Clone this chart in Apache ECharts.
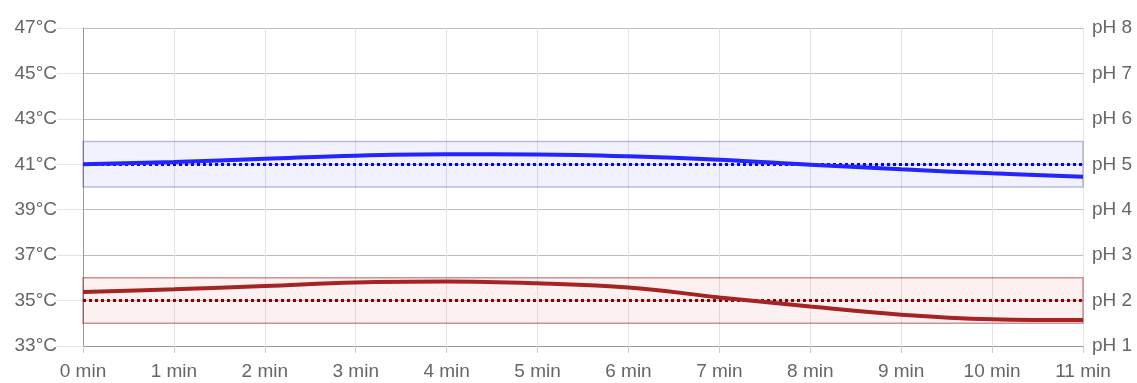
<!DOCTYPE html>
<html>
<head>
<meta charset="utf-8">
<script src="https://cdn.jsdelivr.net/npm/echarts@6/dist/echarts.min.js"></script>
<style>
html, body { margin: 0; padding: 0; background: #fff; }
#chart-box { width: 1137px; height: 383px; }
</style>
</head>
<body>
<div id="chart-box"></div>
<script>
// minutes on the x axis
var minutes = ['0 min', '1 min', '2 min', '3 min', '4 min', '5 min', '6 min', '7 min', '8 min', '9 min', '10 min', '11 min'];
// temperature curve (°C, left axis)
var tempValues = [41.0, 41.1, 41.24, 41.38, 41.44, 41.43, 41.35, 41.2, 40.98, 40.78, 40.6, 40.45];
// pH curve (right axis)
var phValues = [2.19, 2.25, 2.32, 2.40, 2.42, 2.38, 2.29, 2.07, 1.87, 1.69, 1.59, 1.57];
// targets and allowed bands
var tempTarget = 41;
var tempBand = [40, 42];
var phTarget = 2;
var phBand = [1.5, 2.5];

var labelStyle = {
    color: '#666',
    fontSize: 19,
    fontFamily: 'Liberation Sans, Arial, sans-serif'
};

var option = {
    animation: false,
    grid: {
        left: 83,
        right: 54,
        top: 28,
        bottom: 37
    },
    xAxis: {
        type: 'category',
        boundaryGap: false,
        data: minutes,
        axisLine: { lineStyle: { color: '#999', width: 1 } },
        axisTick: { show: true, length: 7, alignWithLabel: true, lineStyle: { color: '#ccc' } },
        axisLabel: Object.assign({ margin: 16, interval: 0 }, labelStyle),
        splitLine: { show: true, lineStyle: { color: '#e3e3e3', width: 1 } }
    },
    yAxis: [{
        type: 'value',
        min: 33,
        max: 47,
        interval: 2,
        axisLine: { show: true, lineStyle: { color: '#999', width: 1 } },
        axisTick: { show: true, length: 26, lineStyle: { color: '#e3e3e3' } },
        axisLabel: Object.assign({
            margin: 26,
            formatter: '{value}°C',
            padding: [0, 0, 8, 0]
        }, labelStyle),
        splitLine: { show: true, lineStyle: { color: '#bdbdbd', width: 1 } }
    }, {
        type: 'value',
        min: 1,
        max: 8,
        interval: 1,
        position: 'right',
        axisLine: { show: false },
        axisTick: { show: false },
        axisLabel: Object.assign({
            margin: 9,
            formatter: 'pH {value}',
            padding: [0, 0, 8, 0]
        }, labelStyle),
        splitLine: { show: false }
    }],
    series: [{
        name: 'temp',
        type: 'line',
        yAxisIndex: 0,
        data: tempValues,
        smooth: 0.4,
        symbol: 'none',
        z: 5,
        lineStyle: { color: '#2424ff', width: 4 },
        markArea: {
            silent: true,
            itemStyle: {
                color: 'rgba(40,40,230,0.06)',
                borderColor: 'rgba(40,40,140,0.3)',
                borderWidth: 1.5
            },
            data: [[{ yAxis: tempBand[0] }, { yAxis: tempBand[1] }]]
        },
        markLine: {
            silent: true,
            symbol: 'none',
            label: { show: false },
            lineStyle: { color: '#0000ff', width: 3, type: [3, 3] },
            data: [{ yAxis: tempTarget }]
        }
    }, {
        name: 'ph',
        type: 'line',
        yAxisIndex: 1,
        data: phValues,
        smooth: 0.4,
        symbol: 'none',
        z: 5,
        lineStyle: { color: '#a42424', width: 4 },
        markArea: {
            silent: true,
            itemStyle: {
                color: 'rgba(230,40,40,0.07)',
                borderColor: 'rgba(140,20,20,0.45)',
                borderWidth: 1.5
            },
            data: [[{ yAxis: phBand[0] }, { yAxis: phBand[1] }]]
        },
        markLine: {
            silent: true,
            symbol: 'none',
            label: { show: false },
            lineStyle: { color: '#8b0000', width: 3, type: [3, 3] },
            data: [{ yAxis: phTarget }]
        }
    }]
};

var myChart = echarts.init(document.getElementById('chart-box'));
myChart.setOption(option);
</script>
</body>
</html>
